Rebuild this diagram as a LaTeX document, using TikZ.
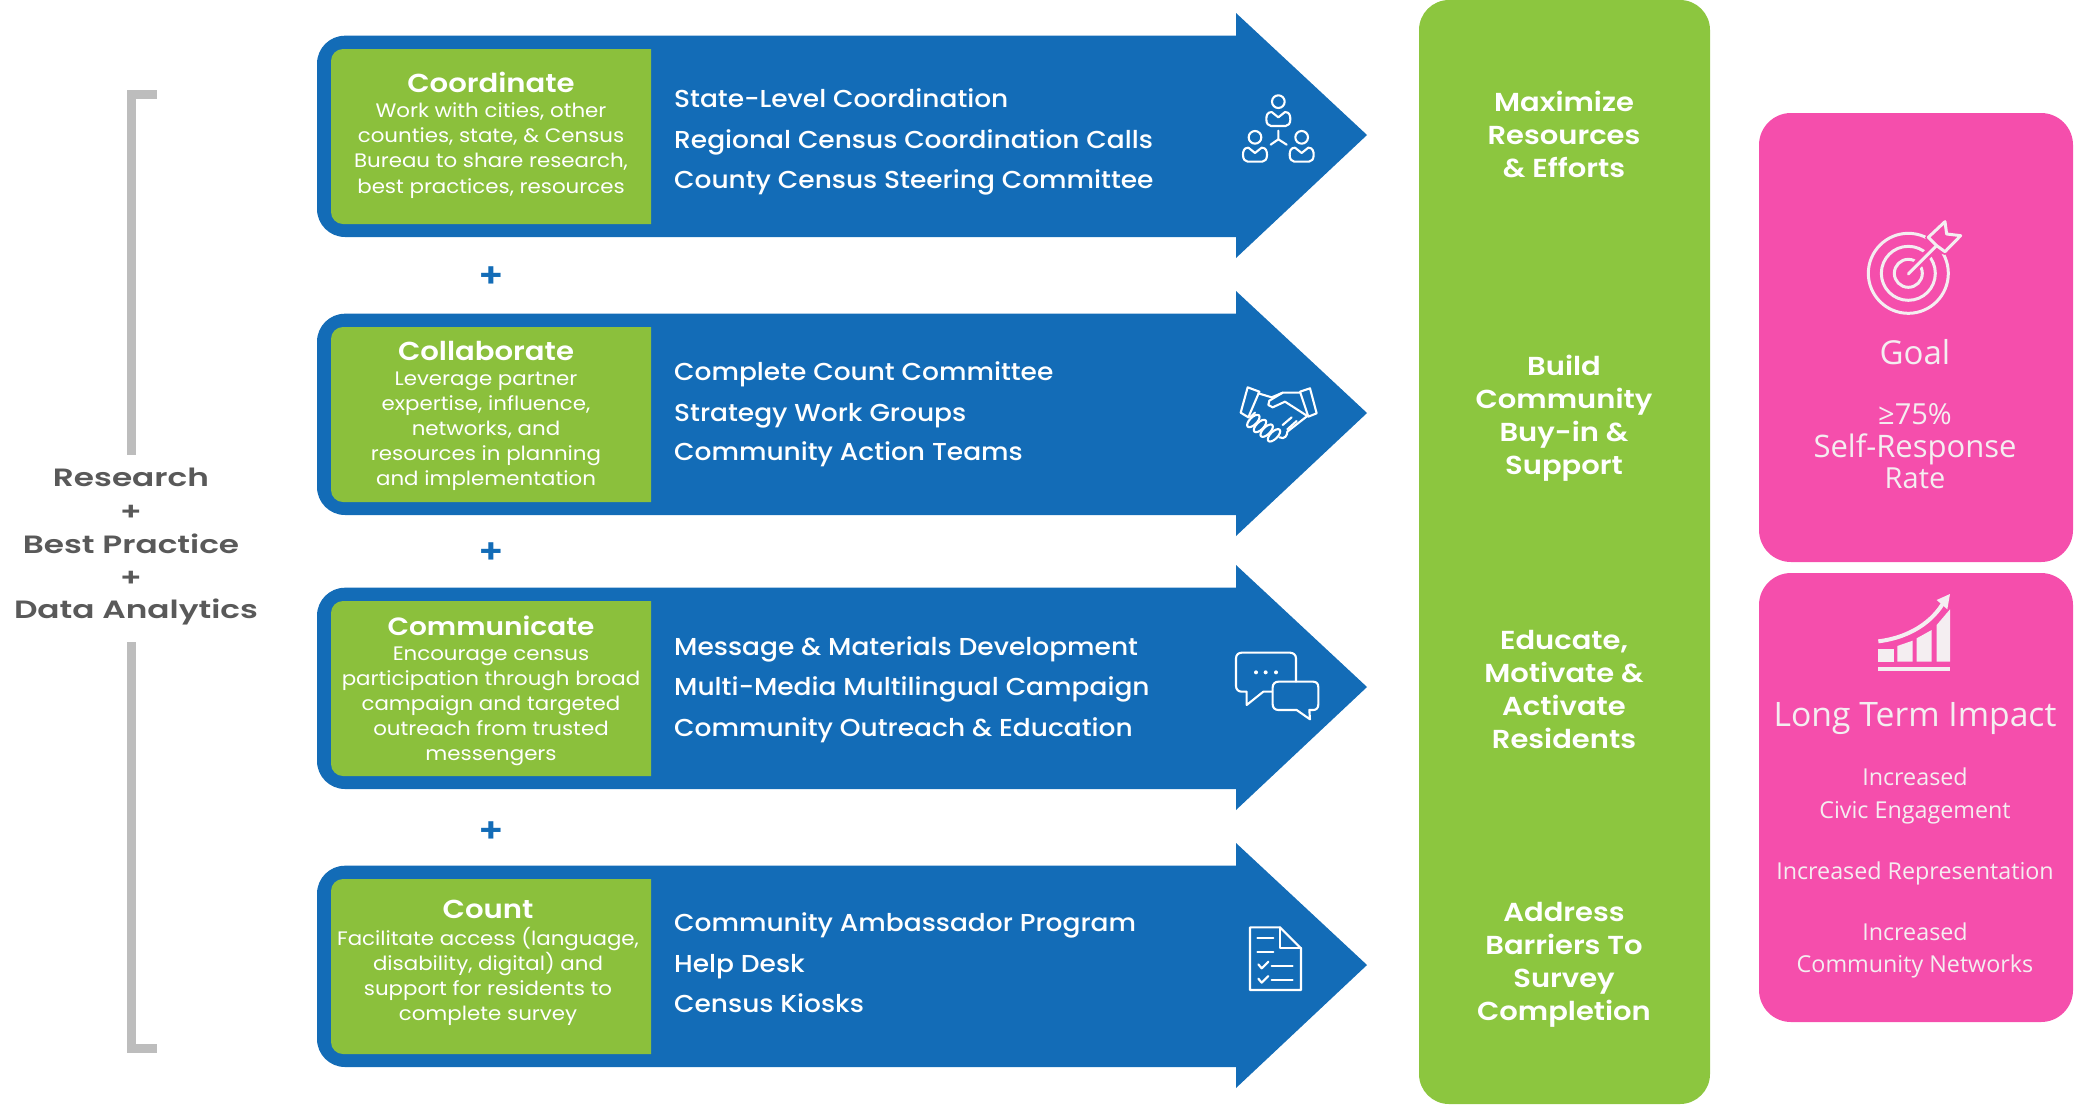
\documentclass[tikz,border=0pt]{standalone}
\usepackage{fontspec}
\setmainfont{Open Sans}
\newfontfamily\gth[FakeStretch=1.095]{Poppins}
\newfontfamily\gthb[FakeStretch=1.12]{Poppins SemiBold}
\newfontfamily\gthc[FakeStretch=1.115]{Poppins SemiBold}
\newfontfamily\gthm[FakeStretch=1.08]{Poppins Medium}
\newfontfamily\lblf[FakeStretch=1.31]{Poppins SemiBold}
\definecolor{arrowblue}{HTML}{136CB7}
\definecolor{boxgreen}{HTML}{8BC03C}
\definecolor{colgreen}{HTML}{8CC63F}
\definecolor{hotpink}{HTML}{F54EAC}
\definecolor{softwhite}{HTML}{F4EEF1}
\definecolor{barGray}{HTML}{BDBDBD}
\definecolor{labelgray}{HTML}{595959}
\tikzset{
  titletext/.style={text=white,font=\gthb\fontsize{26}{28}\selectfont,inner sep=0pt},
  desctext/.style={text=white,font=\gth\fontsize{19.5}{25.1}\selectfont,align=center,inner sep=0pt},
  listtext/.style={text=white,font=\gthm\fontsize{24.5}{28}\selectfont,anchor=west,inner sep=0pt,text height=18pt,text depth=0pt},
  plustext/.style={text=arrowblue,font=\gthb\fontsize{34}{36}\selectfont,inner sep=0pt},
  coltext/.style={text=white,font=\gthc\fontsize{26}{33}\selectfont,align=center,inner sep=0pt},
  sidetext/.style={text=labelgray,font=\lblf\fontsize{25}{28}\selectfont,inner sep=0pt},
  pinktext/.style={text=softwhite,inner sep=0pt,align=center},
  iconline/.style={draw=white,line width=2.1pt,line join=round,line cap=round,fill=none},
  pinkicon/.style={draw=softwhite,line width=3pt,line join=round,fill=none},
}
\newcommand{\flowarrow}[1]{%
  \begin{scope}[shift={(0,#1)}]
    \fill[arrowblue] (1236,0) -- (1367,122) -- (1236,245) -- cycle;
    \fill[arrowblue,rounded corners=28pt] (1240,224) -- (317,224) -- (317,22.7) -- (1240,22.7);
    \fill[boxgreen,rounded corners=12pt] (651,211) -- (331,211) -- (331,36) -- (651,36);
  \end{scope}}
\begin{document}
\begin{tikzpicture}[x=1pt,y=-1pt]
\useasboundingbox (0,0) rectangle (2075,1104);
% bracket
\fill[barGray] (127,90) rectangle (136,455);
\fill[barGray] (127,90) rectangle (157,99);
\fill[barGray] (127,642) rectangle (136,1053);
\fill[barGray] (127,1044) rectangle (157,1053);
\node[sidetext] (research) at (131,477) {Research};
\node[sidetext] (plusA) at (131,513) {+};
\node[sidetext] (best) at (131,544) {Best Practice};
\node[sidetext] (plusB) at (131,579) {+};
\node[sidetext] (data) at (136,612) {Data Analytics};
% arrows
\flowarrow{13}
\flowarrow{291}
\flowarrow{565}
\flowarrow{843}
% green column and pink panels
\fill[colgreen,rounded corners=30pt] (1419,0) rectangle (1710,1104);
\fill[hotpink,rounded corners=32pt] (1759,113) rectangle (2073,562);
\fill[hotpink,rounded corners=32pt] (1759,573) rectangle (2073,1022);
% row 1
\node[titletext] (t1) at (491,82) {Coordinate};
\node[desctext] (d1) at (491,150.5) {Work with cities, other\\counties, state, \& Census\\Bureau to share research,\\best practices, resources};
\node[listtext] (l1a) at (674,98) {State-Level Coordination};
\node[listtext] (l1b) at (674,139) {Regional Census Coordination Calls};
\node[listtext] (l1c) at (674,179) {County Census Steering Committee};
% row 2
\node[titletext] (t2) at (486,351) {Collaborate};
\node[desctext] (d2) at (486,431.5) {Leverage partner\\expertise, influence,\\networks, and\\resources in planning\\and implementation};
\node[listtext] (l2a) at (674,371) {Complete Count Committee};
\node[listtext] (l2b) at (674,412) {Strategy Work Groups};
\node[listtext] (l2c) at (674,451) {Community Action Teams};
% row 3
\node[titletext,font=\gthb\fontsize{25}{28}\selectfont] (t3) at (491,626) {Communicate};
\node[desctext] (d3) at (491,706.5) {Encourage census\\participation through broad\\campaign and targeted\\outreach from trusted\\messengers};
\node[listtext] (l3a) at (674,646) {Message \& Materials Development};
\node[listtext] (l3b) at (674,686) {Multi-Media Multilingual Campaign};
\node[listtext] (l3c) at (674,727) {Community Outreach \& Education};
% row 4
\node[titletext] (t4) at (488,909) {Count};
\node[desctext] (d4) at (488,976.5) {Facilitate access (language,\\disability, digital) and\\support for residents to\\complete survey};
\node[listtext] (l4a) at (674,922) {Community Ambassador Program};
\node[listtext] (l4b) at (674,963) {Help Desk};
\node[listtext] (l4c) at (674,1003) {Census Kiosks};
% plus signs
\node[plustext] (p1) at (491,277) {+};
\node[plustext] (p2) at (491,553) {+};
\node[plustext] (p3) at (491,832) {+};
% column text
\node[coltext] (c1) at (1564,134) {Maximize\\Resources\\\& Efforts};
\node[coltext] (c2) at (1564,418) {Build\\Community\\Buy-in \&\\Support};
\node[coltext] (c3) at (1564,689) {Educate,\\Motivate \&\\Activate\\Residents};
\node[coltext] (c4) at (1564,965) {Address\\Barriers To\\Survey\\Completion};
% pink text
\node[pinktext,font=\fontsize{33}{36}\selectfont] (goal) at (1915,352) {Goal};
\node[pinktext,font=\fontsize{29}{32}\selectfont] (g75) at (1915,414) {≥75\%};
\node[pinktext,font=\fontsize{31}{32}\selectfont] (gsr) at (1915,449) {Self-Response};
\node[pinktext,font=\fontsize{29}{32}\selectfont] (grate) at (1915,478) {Rate};
\node[pinktext,font=\fontsize{33.7}{36}\selectfont] (lti) at (1915,719) {Long Term Impact};
\node[pinktext,font=\fontsize{23.3}{33}\selectfont] (i1) at (1915,796) {Increased\\Civic Engagement};
\node[pinktext,font=\fontsize{23.3}{33}\selectfont] (i2) at (1915,873) {Increased Representation};
\node[pinktext,font=\fontsize{23.3}{32}\selectfont] (i3) at (1915,950) {Increased\\Community Networks};
% people icon
\begin{scope}[shift={(1200,60)},x=.3333pt,y=-.3333pt]
  \draw[iconline] (235,125) circle[radius=19pt*.3333];
  \draw[iconline] (165,232) circle[radius=19pt*.3333];
  \draw[iconline] (305,232) circle[radius=19pt*.3333];
  \foreach \ox/\oy in {235/178,165/285,305/285}{
    \draw[iconline,shift={(\ox,\oy)}] (-20,-22) -- (0,-6) -- (20,-22) .. controls (34,-22) and (36,-10) .. (36,0)
      .. controls (36,12) and (30,20) .. (22,20) -- (-22,20) .. controls (-30,20) and (-36,12) .. (-36,0) .. controls (-36,-10) and (-34,-22) .. (-20,-22);
  }
  \draw[iconline] (235,212) -- (235,238) -- (212,254);
  \draw[iconline] (235,238) -- (260,254);
\end{scope}
% handshake icon
\begin{scope}[shift={(1200,360)},x=.3333pt,y=-.3333pt]
  \draw[iconline] (143,82) -- (178,95) -- (145,172) -- (122,158) -- cycle;
  \draw[iconline] (300,95) -- (330,85) -- (350,160) -- (325,170) -- cycle;
  \draw[iconline] (175,100) -- (215,112) -- (248,98) -- (300,98);
  \draw[iconline] (248,98) -- (208,122) -- (205,135) -- (218,142) -- (255,125) -- (322,168);
  \draw[iconline] (165,158) -- (150,172);
  \foreach \ex/\ey in {160/183,180/198,200/212,222/226}{
    \draw[iconline,rotate around={45:(\ex,\ey)}] (\ex,\ey) ellipse[x radius=24pt*.3333,y radius=11pt*.3333];
  }
  \draw[iconline] (238,232) .. controls (255,240) and (262,225) .. (262,215);
  \draw[iconline] (262,215) -- (322,168);
  \draw[iconline] (248,195) -- (275,172);
  \draw[iconline] (262,208) -- (290,183);
\end{scope}
% chat icon
\begin{scope}[shift={(1200,630)},x=.3333pt,y=-.3333pt]
  \draw[iconline] (215,185) -- (190,185) -- (140,225) -- (140,185) -- (125,185)
     .. controls (115,185) and (108,178) .. (108,168) -- (108,85)
     .. controls (108,75) and (115,68) .. (125,68) -- (270,68)
     .. controls (280,68) and (288,75) .. (288,85) -- (288,155);
  \draw[iconline] (235,155) -- (340,155) .. controls (350,155) and (355,162) .. (355,172) -- (355,223)
     .. controls (355,233) and (350,240) .. (340,240) -- (328,240) -- (330,268) -- (290,240) -- (235,240)
     .. controls (225,240) and (218,233) .. (218,223) -- (218,172) .. controls (218,162) and (225,155) .. (235,155) -- cycle;
  \fill[white] (168,127) circle[radius=2pt] (197,127) circle[radius=2pt] (228,127) circle[radius=2pt];
\end{scope}
% document icon
\begin{scope}[shift={(1220,910)},x=.3333pt,y=-.3333pt]
  \draw[iconline,line cap=butt] (90,52) -- (180,52) -- (243,115) -- (243,240) -- (90,240) -- cycle;
  \draw[iconline] (180,52) -- (180,115) -- (243,115);
  \draw[iconline] (112,85) -- (160,85);
  \draw[iconline] (112,125) -- (160,125);
  \draw[iconline] (115,163) -- (125,175) -- (145,155);
  \draw[iconline] (155,168) -- (218,168);
  \draw[iconline] (115,206) -- (125,218) -- (145,198);
  \draw[iconline] (155,210) -- (218,210);
\end{scope}
% target icon
\begin{scope}[shift={(1740,100)},x=.3333pt,y=-.3333pt]
  \draw[pinkicon] (505,520) circle[radius=40pt];
  \draw[pinkicon] (505,520) circle[radius=27pt];
  \draw[pinkicon] (505,520) circle[radius=14pt];
  \draw[hotpink,line width=9pt] (520,505) -- (600,425);
  \fill[hotpink] (555,412) -- (615,355) -- (672,407) -- (615,465) -- (570,450) -- cycle;
  \draw[pinkicon,line cap=round] (505,522) -- (590,437);
  \draw[pinkicon] (565,412) -- (615,365) -- (620,402) -- (662,407) -- (615,455) -- (590,437) -- cycle;
\end{scope}
% chart icon
\begin{scope}[shift={(1740,570)},x=.3333pt,y=-.3333pt]
  \fill[softwhite] (415,290) rectangle (630,303);
  \fill[softwhite] (415,238) rectangle (462,275);
  \fill[softwhite] (472,228) -- (518,212) -- (518,275) -- (472,275) -- cycle;
  \fill[softwhite] (530,205) -- (575,180) -- (575,275) -- (530,275) -- cycle;
  \fill[softwhite] (590,165) -- (630,118) -- (630,275) -- (590,275) -- cycle;
  \draw[softwhite,line width=4pt] (415,214) .. controls (490,205) and (565,170) .. (608,102);
  \fill[softwhite] (630,72) -- (590,90) -- (622,118) -- cycle;
\end{scope}
\end{tikzpicture}
\end{document}
